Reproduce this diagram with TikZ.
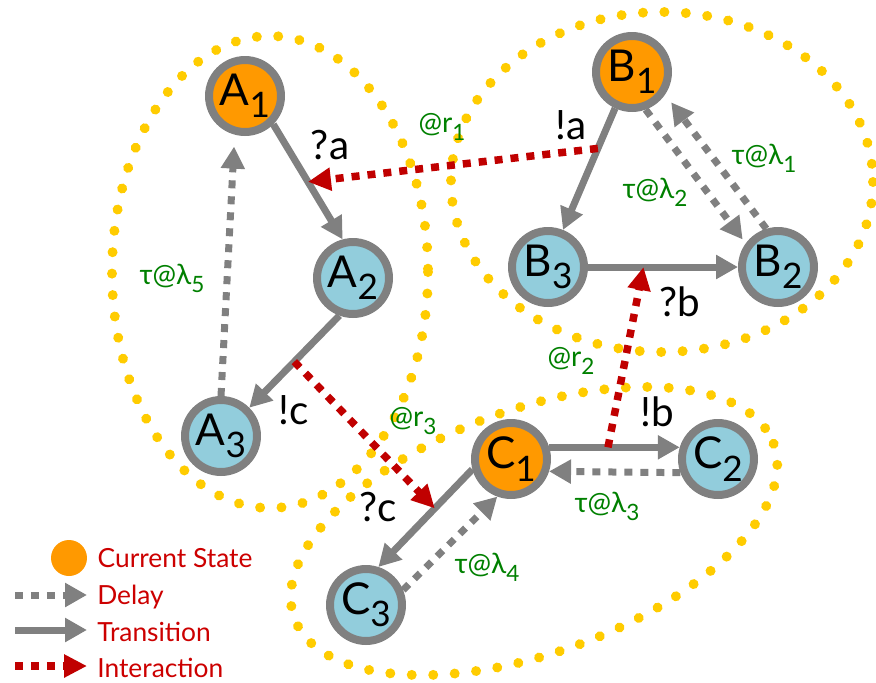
\documentclass[tikz,border=0pt]{standalone}
\usepackage{fontspec}
\setmainfont{Lato}
\usepackage{graphicx}
\usetikzlibrary{arrows.meta,positioning,decorations.markings}
\definecolor{curorange}{RGB}{255,153,0}
\definecolor{stateblue}{RGB}{146,205,220}
\definecolor{edgegray}{RGB}{128,128,128}
\definecolor{grpyellow}{RGB}{255,204,0}
\definecolor{interred}{RGB}{192,0,0}
\definecolor{rategreen}{RGB}{0,128,0}
\definecolor{legred}{RGB}{204,0,0}
\newcommand{\sub}[1]{\raisebox{-.28em}{\scalebox{.8}{#1}}}
\tikzset{
  statebox/.style={circle, draw=edgegray, line width=0.16cm, fill=stateblue,
    minimum size=1.44cm, inner sep=0pt, font=\fontsize{25}{28}\selectfont},
  curbox/.style={statebox, fill=curorange},
  trans/.style={-{Triangle[length=0.44cm, width=0.46cm]}, line width=0.14cm, edgegray},
  delay/.style={-{Triangle[length=0.44cm, width=0.46cm]}, line width=0.14cm, edgegray,
    dash pattern=on 0.16cm off 0.16cm},
  inter/.style={-{Triangle[length=0.46cm, width=0.44cm]}, line width=0.15cm, interred,
    dash pattern=on 0.16cm off 0.16cm},
  grp/.style={decorate, decoration={markings,
    mark=between positions 0 and 1 step 0.43cm with {\fill[grpyellow] (0,0) circle (0.1cm);}}},
  actlbl/.style={inner sep=0pt, font=\fontsize{23}{25}\selectfont},
  ratelbl/.style={inner sep=0pt, text=rategreen, font=\fontsize{16}{18}\selectfont},
  legtext/.style={inner sep=0pt, text=legred, font=\fontsize{15}{17}\selectfont},
}
\begin{document}
\begin{tikzpicture}[x=0.02cm, y=-0.02cm]
  \useasboundingbox (0,0) rectangle (876,683);

  % groups
  \path[grp] (270,272) ellipse [x radius=158, y radius=236];
  \path[grp] (662,182) ellipse [x radius=211, y radius=170];
  \path[grp, rotate around={20:(534,531)}] (534,531) ellipse [x radius=255, y radius=122];

  % states
  \node[curbox] (A1) at (245,96) {A\sub{1}};
  \node[statebox] (A2) at (353,278) {A\sub{2}};
  \node[statebox] (A3) at (221,436) {A\sub{3}};
  \node[curbox] (B1) at (632,72) {B\sub{1}};
  \node[statebox] (B2) at (778,267) {B\sub{2}};
  \node[statebox] (B3) at (548,267) {B\sub{3}};
  \node[curbox] (C1) at (511,459) {C\sub{1}};
  \node[statebox] (C2) at (718,459) {C\sub{2}};
  \node[statebox] (C3) at (366,605) {C\sub{3}};

  % transitions and delays
  \draw[trans] (A1.-45) -- (A2.105) coordinate[pos=.5] (ra);
  \draw[trans] (A2.-110) -- (A3.45) coordinate[pos=.5] (sc);
  \draw[delay, shorten >=0.24cm] (A3.90) -- (A1.-105);
  \draw[trans] (B1.-115) -- (B3.68) coordinate[pos=.33] (sa);
  \draw[trans] (B3) -- (B2) coordinate[pos=.37] (rb);
  \draw[delay, shorten >=0.1cm] (B1.-70) -- (B2.144);
  \draw[delay, shorten >=0.2cm] (B2.107) -- (B1.-34);
  \draw[trans] (C1.17) -- (C2.163) coordinate[pos=.45] (sb);
  \draw[delay] (C2.-160) -- (C1.-18);
  \draw[trans] (C1.-165) -- (C3.72) coordinate[pos=.4] (rc);
  \draw[delay] (C3.22) -- (C1.-110);

  % interactions
  \draw[inter] (sa) -- (ra);
  \draw[inter] (sb) -- (rb);
  \draw[inter] (sc) -- (rc);

  % labels
  \node[actlbl] (lra) at (330,145) {?a};
  \node[actlbl] (lsa) at (571,125) {!a};
  \node[actlbl] (lrb) at (680,302) {?b};
  \node[actlbl] (lsb) at (657,412) {!b};
  \node[actlbl] (lrc) at (378,507) {?c};
  \node[actlbl] (lsc) at (294,410) {!c};
  \node[ratelbl] (r1) at (442,127) {@r\sub{1}};
  \node[ratelbl] (r2) at (571,361) {@r\sub{2}};
  \node[ratelbl] (r3) at (413,421) {@r\sub{3}};
  \node[ratelbl] (d1) at (764,158) {τ@λ\sub{1}};
  \node[ratelbl] (d2) at (655,192) {τ@λ\sub{2}};
  \node[ratelbl] (d3) at (607,506) {τ@λ\sub{3}};
  \node[ratelbl] (d4) at (487,567) {τ@λ\sub{4}};
  \node[ratelbl] (d5) at (172,278) {τ@λ\sub{5}};

  % legend
  \node[circle, fill=curorange, minimum size=0.72cm, inner sep=0pt] (lcur) at (69,558) {};
  \node[legtext, right=0.2cm of lcur] (tcur) {Current State};
  \coordinate (ld0) at (15,595);
  \coordinate (ld1) at (87,595);
  \coordinate (lt0) at (15,630);
  \coordinate (lt1) at (87,630);
  \coordinate (li0) at (15,666);
  \coordinate (li1) at (87,666);
  \draw[delay] (ld0) -- (ld1);
  \draw[trans] (lt0) -- (lt1);
  \draw[inter] (li0) -- (li1);
  \node[legtext, anchor=base west] (tdel) at (97,604) {Delay};
  \node[legtext, anchor=base west] (ttra) at (97,641) {Transition};
  \node[legtext, anchor=base west] (tint) at (97,677) {Interaction};
\end{tikzpicture}
\end{document}
